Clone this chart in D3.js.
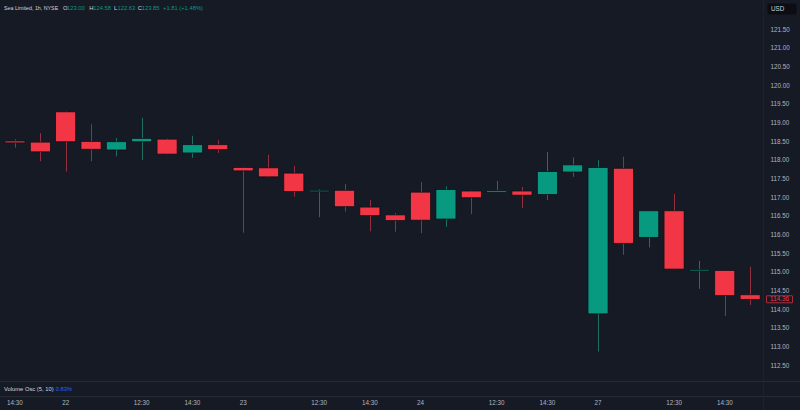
<!DOCTYPE html>
<html>
<head>
<meta charset="utf-8">
<script src="https://cdn.jsdelivr.net/npm/d3@7"></script>
<style>
  html, body { margin: 0; padding: 0; background: #161a25; }
  svg { display: block; }
  text { font-family: "Liberation Sans", Arial, sans-serif; }
</style>
</head>
<body>
<svg id="chart" width="800" height="410"></svg>
<script>
// ---- data ----
const barDays  = [21,21, 22,22,22,22,22,22,22, 23,23,23,23,23,23,23, 24,24,24,24,24,24,24, 27,27,27,27,27,27,27];
const barTimes = ["14:30","15:30",
  "09:30","10:30","11:30","12:30","13:30","14:30","15:30",
  "09:30","10:30","11:30","12:30","13:30","14:30","15:30",
  "09:30","10:30","11:30","12:30","13:30","14:30","15:30",
  "09:30","10:30","11:30","12:30","13:30","14:30","15:30"];
const openVals  = [118.50,118.47,119.28,118.49,118.26,118.48,118.55,118.18,118.40,117.79,117.78,117.64,117.17,117.18,116.73,116.52,117.13,116.41,117.16,117.16,117.16,117.07,117.67,113.87,117.77,115.92,116.63,115.04,115.03,114.38];
const highVals  = [118.55,118.71,119.30,118.95,118.58,119.12,118.57,118.64,118.52,117.81,118.13,117.83,117.21,117.35,116.92,116.57,117.40,117.29,117.17,117.43,117.27,118.21,118.06,117.99,118.08,116.64,117.08,115.29,115.04,115.13];
const lowVals   = [118.32,117.96,117.68,117.96,118.09,117.99,118.14,118.05,118.18,116.04,117.52,117.01,116.46,116.61,116.08,116.07,116.03,116.20,116.54,117.13,116.71,116.92,117.54,112.86,115.45,115.65,115.07,114.54,113.81,114.11];
const closeVals = [118.45,118.21,118.48,118.28,118.48,118.57,118.15,118.40,118.27,117.70,117.54,117.15,117.18,116.74,116.50,116.37,116.38,117.20,116.98,117.17,117.05,117.68,117.86,117.79,115.76,116.63,115.07,115.06,114.36,114.26];
const priceTicks = [112.5,113,113.5,114,114.5,115,115.5,116,116.5,117,117.5,118,118.5,119,119.5,120,120.5,121,121.5];
const timeTickTimes = ["12:30","14:30"];
const lastPriceText = "114.36";
const headerTitle = "Sea Limited, 1h, NYSE";
const headerKeys = ["O","H","L","C"];
const headerValues = ["123.00","124.58","122.63","123.85"];
const headerChange = "+1.81 (+1.48%)";
const oscName = "Volume Osc (5, 10)";
const oscValue = "0.83%";

// ---- styles / layout ----
const UP = "#089981", DOWN = "#f23645";
const UP_WICK = "#1f6e63", DOWN_WICK = "#93303b";
const TXT = "#b2b5be";
const headerKeyX = [63, 89.3, 114, 137.7];
const headerValX = [67, 93.3, 117.5, 141.7];
const headerChangeX = 163;

const svg = d3.select("#chart");
const W = 800, H = 410;
svg.append("rect").attr("width", W).attr("height", H).attr("fill", "#161a25");

const idx = d3.range(barDays.length);
const x = d3.scaleBand().domain(idx).range([2.3, 762.8]).paddingInner(0.21).paddingOuter(0.105);
const y = d3.scaleLinear().domain([112.5, 121.5]).range([365, 29]);

// pane separators
svg.append("line").attr("x1", 0).attr("x2", W).attr("y1", 381.5).attr("y2", 381.5).attr("stroke", "#262a35");
svg.append("line").attr("x1", 0).attr("x2", W).attr("y1", 396.5).attr("y2", 396.5).attr("stroke", "#262a35");
svg.append("line").attr("x1", 763.5).attr("x2", 763.5).attr("y1", 0).attr("y2", H).attr("stroke", "#1e222d");

const plot = svg.append("g");
const bars = idx.map(i => ({i, o: openVals[i], h: highVals[i], l: lowVals[i], c: closeVals[i]}));

plot.selectAll("line.wick").data(bars).join("line")
  .attr("class", "wick")
  .attr("x1", d => Math.round(x(d.i) + x.bandwidth() / 2) + 0.5)
  .attr("x2", d => Math.round(x(d.i) + x.bandwidth() / 2) + 0.5)
  .attr("y1", d => y(d.h)).attr("y2", d => y(d.l))
  .attr("stroke", d => d.c >= d.o ? UP_WICK : DOWN_WICK).attr("stroke-width", 1);

plot.selectAll("rect.body").data(bars).join("rect")
  .attr("class", "body")
  .attr("x", d => x(d.i))
  .attr("width", x.bandwidth())
  .attr("y", d => y(Math.max(d.o, d.c)))
  .attr("height", d => Math.max(1.5, Math.abs(y(d.o) - y(d.c))))
  .attr("fill", d => d.c >= d.o ? UP : DOWN)
  .attr("stroke", "#0c0f16").attr("stroke-width", 0.7);

// price axis
const yAxis = d3.axisRight(y).tickValues(priceTicks).tickFormat(d3.format(".2f")).tickSize(0).tickPadding(0);
const gy = svg.append("g").attr("transform", "translate(770.5,0)").call(yAxis);
gy.select(".domain").remove();
gy.selectAll("text").attr("fill", TXT).attr("font-size", 6.3).attr("text-anchor", "start").attr("dy", "0.35em");

// last price label
const lastY = y(closeVals[closeVals.length - 1]);
svg.append("rect").attr("x", 766.5).attr("y", lastY - 3.5).attr("width", 26).attr("height", 7)
  .attr("fill", "#161a25").attr("stroke", DOWN).attr("stroke-width", 0.7).attr("rx", 0.5);
svg.append("text").attr("x", 779.5).attr("y", lastY).attr("dy", "0.35em").attr("text-anchor", "middle")
  .attr("fill", DOWN).attr("font-size", 6.3).text(lastPriceText);

// USD box
svg.append("rect").attr("x", 767.5).attr("y", 3.5).attr("width", 29).attr("height", 11)
  .attr("fill", "#0b0d12").attr("rx", 1.5);
svg.append("text").attr("x", 771).attr("y", 9).attr("dy", "0.35em").attr("fill", "#d1d4dc")
  .attr("font-size", 6.3).text("USD");

// time axis
const xAxis = d3.axisBottom(x)
  .tickValues(idx.filter(i => barTimes[i] === "09:30" || timeTickTimes.includes(barTimes[i])))
  .tickFormat(i => barTimes[i] === "09:30" ? String(barDays[i]) : barTimes[i])
  .tickSize(0).tickPadding(0);
const gx = svg.append("g").attr("transform", "translate(0,403)").call(xAxis);
gx.select(".domain").remove();
gx.selectAll("text").attr("fill", TXT).attr("font-size", 6.3).attr("dy", "0.35em");

// header
const hg = svg.append("g").attr("font-size", 5.8);
hg.append("text").attr("x", 4).attr("y", 8).attr("dy", "0.35em").attr("fill", "#d1d4dc").attr("font-size", 5.3).text(headerTitle);
headerKeys.forEach((k, j) => {
  hg.append("text").attr("x", headerKeyX[j]).attr("y", 8).attr("dy", "0.35em").attr("fill", "#d1d4dc").text(k);
  hg.append("text").attr("x", headerValX[j]).attr("y", 8).attr("dy", "0.35em").attr("fill", UP).text(headerValues[j]);
});
hg.append("text").attr("x", headerChangeX).attr("y", 8).attr("dy", "0.35em").attr("fill", UP).text(headerChange);

// oscillator legend
svg.append("text").attr("x", 4).attr("y", 389).attr("dy", "0.35em").attr("font-size", 5.8)
  .attr("fill", "#d1d4dc").text(oscName);
svg.append("text").attr("x", 55.7).attr("y", 389).attr("dy", "0.35em").attr("font-size", 5.8)
  .attr("fill", "#2962ff").text(oscValue);
</script>
</body>
</html>
